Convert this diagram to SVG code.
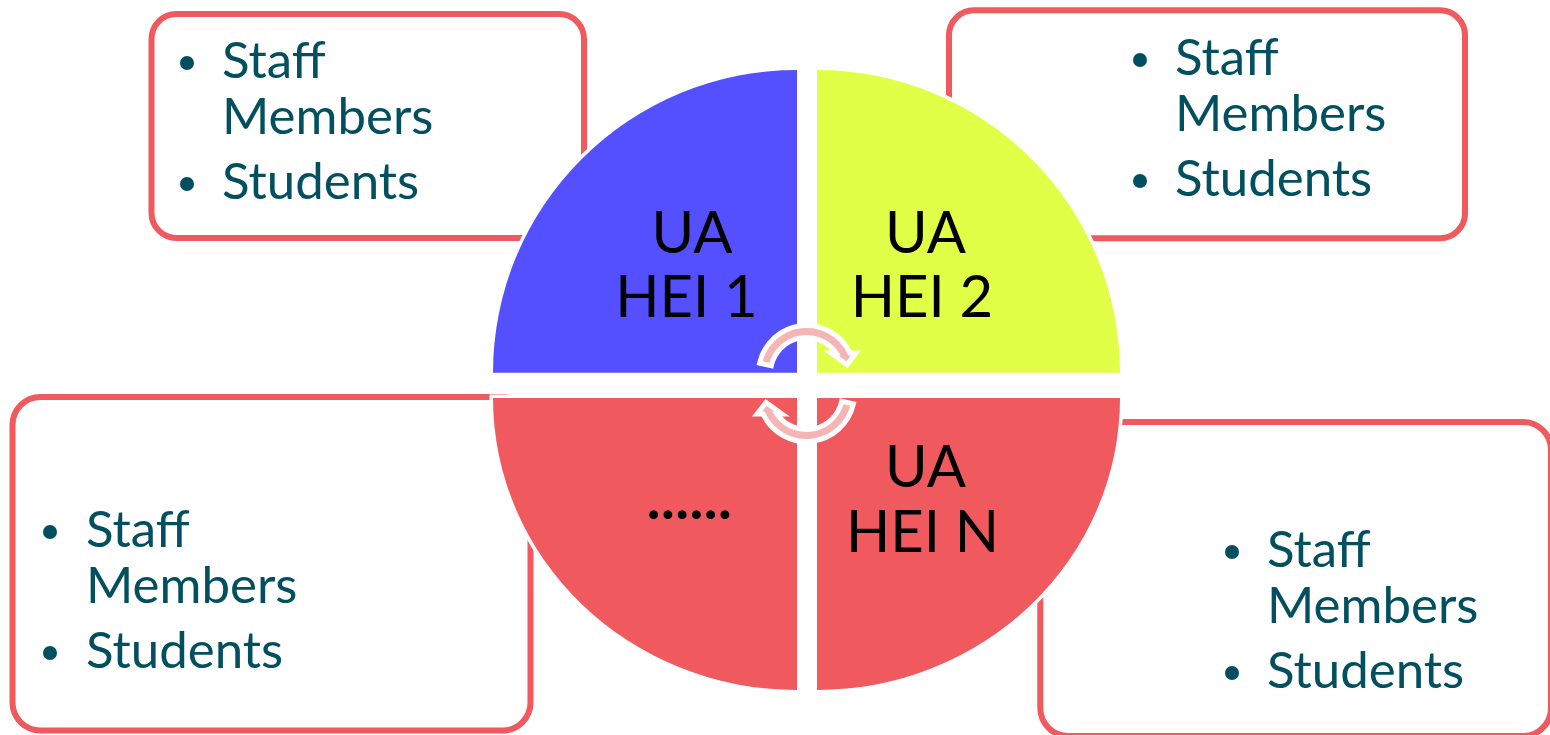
<svg xmlns="http://www.w3.org/2000/svg" width="1550" height="735" viewBox="0 0 1550 735">
  <style>
    .box { fill: #ffffff; stroke: #F0595E; stroke-width: 6; }
    .item { font-family: Lato, "Open Sans", sans-serif; font-size: 51px; fill: #02505F; }
    .dot { fill: #02505F; }
    .quad { stroke: #ffffff; stroke-width: 7; paint-order: stroke fill; }
    .label { font-family: Lato, "Open Sans", sans-serif; font-size: 58px; fill: #000000; text-anchor: middle; }
    .ellipsis { font-family: Lato, "Open Sans", sans-serif; font-size: 58px; font-weight: 700; fill: #000000; text-anchor: middle; letter-spacing: 0.5px; }
    .cycle { fill: #F5B5B5; stroke: #ffffff; stroke-width: 5; stroke-linejoin: miter; }
  </style>
  <defs>
    <!-- curved arrow: thick arc with a short wide head -->
    <path id="cycleArrow" d="M 759.6 363.2 A 48 48 0 0 1 849.9 353 L 856 353 L 847 364.5 L 831 353 L 836.1 353 A 36 36 0 0 0 771.3 365.8 Z"/>
  </defs>

  <rect width="1550" height="735" fill="#ffffff"/>

  <!-- member lists -->
  <g id="members-hei1">
    <rect class="box" x="151.5" y="14" width="432.5" height="224" rx="25"/>
    <circle class="dot" cx="187" cy="63" r="7"/>
    <circle class="dot" cx="187" cy="184" r="7"/>
    <text class="item" x="222" y="78">Staff</text>
    <text class="item" x="222" y="134">Members</text>
    <text class="item" x="222" y="199">Students</text>
  </g>
  <g id="members-hei2">
    <rect class="box" x="949" y="10.3" width="516" height="228" rx="25"/>
    <circle class="dot" cx="1140" cy="60" r="7"/>
    <circle class="dot" cx="1140" cy="181" r="7"/>
    <text class="item" x="1175" y="75">Staff</text>
    <text class="item" x="1175" y="131">Members</text>
    <text class="item" x="1175" y="196">Students</text>
  </g>
  <g id="members-more">
    <rect class="box" x="12.5" y="397" width="518" height="333.5" rx="28"/>
    <circle class="dot" cx="50" cy="532" r="7"/>
    <circle class="dot" cx="50" cy="653" r="7"/>
    <text class="item" x="86" y="547">Staff</text>
    <text class="item" x="86" y="603">Members</text>
    <text class="item" x="86" y="668">Students</text>
  </g>
  <g id="members-hein">
    <rect class="box" x="1040.3" y="422" width="510.7" height="314" rx="28"/>
    <circle class="dot" cx="1232" cy="552" r="7"/>
    <circle class="dot" cx="1232" cy="673" r="7"/>
    <text class="item" x="1267" y="567">Staff</text>
    <text class="item" x="1267" y="623">Members</text>
    <text class="item" x="1267" y="688">Students</text>
  </g>

  <!-- pie quadrants -->
  <g id="hei1">
    <path class="quad" fill="#5450FF" d="M 797 372.7 L 493 372.7 A 304 302.7 0 0 1 797 70 Z"/>
    <text class="label" x="692" y="253">UA</text>
    <text class="label" x="686.5" y="317">HEI 1</text>
  </g>
  <g id="hei2">
    <path class="quad" fill="#E2FF48" d="M 817 372.7 L 817 70 A 303 302.7 0 0 1 1120 372.7 Z"/>
    <text class="label" x="925.5" y="253">UA</text>
    <text class="label" x="922" y="317">HEI 2</text>
  </g>
  <g id="hei-more">
    <path class="quad" fill="#F0595E" d="M 797 398 L 797 690 A 304 292 0 0 1 493 398 Z"/>
    <text class="ellipsis" x="689.5" y="519">......</text>
  </g>
  <g id="hein">
    <path class="quad" fill="#F0595E" d="M 817 398 L 1120 398 A 303 292 0 0 1 817 690 Z"/>
    <text class="label" x="925.5" y="487">UA</text>
    <text class="label" x="922.5" y="552">HEI N</text>
  </g>

  <!-- exchange cycle between the institutions -->
  <g id="connectors">
    <use href="#cycleArrow" class="cycle"/>
    <use href="#cycleArrow" class="cycle" transform="rotate(180 806.5 383.5)"/>
  </g>
</svg>
